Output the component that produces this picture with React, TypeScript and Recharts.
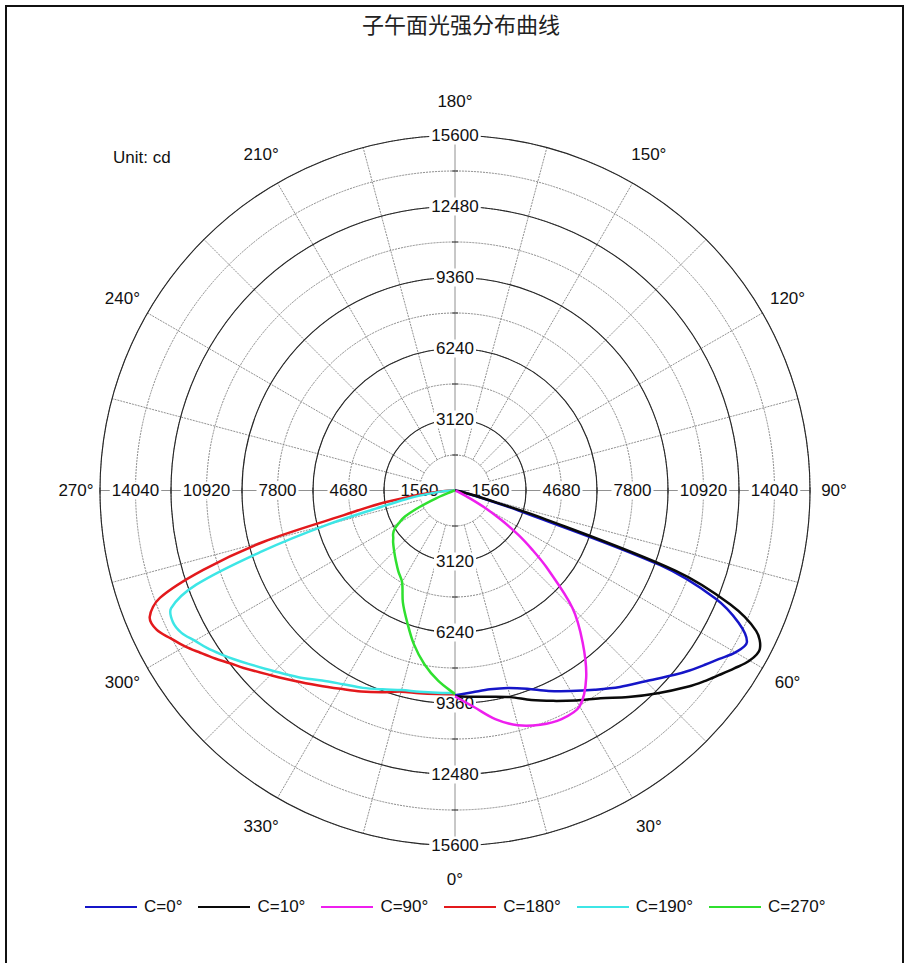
import {
  RadarChart, Radar, PolarGrid, PolarAngleAxis, PolarRadiusAxis, Legend,
} from "recharts";

// gamma angles (deg from nadir) shared by every C-plane series
const GAMMA = [0, 5, 10, 15, 20, 25, 30, 35, 40, 45, 50, 52.5, 55, 57.5, 60, 62.5, 65, 67.5, 70, 72.5, 75, 77.5, 80, 82.5, 85, 87.5, 90];

// intensities in cd, right half of the plot
const C0 = [9000, 8900, 8870, 8980, 9270, 9720, 10180, 10690, 11270, 11850, 12600, 12990, 13370, 13770, 14230, 14460, 13750, 12370, 9600, 2900, 900, 400, 200, 120, 60, 20, 0];
const C10 = [9050, 9100, 9200, 9400, 9800, 10200, 10650, 11150, 11850, 12600, 13400, 13780, 14150, 14550, 14950, 15100, 14600, 13100, 10300, 4000, 1100, 450, 250, 150, 80, 30, 0];
const C90 = [9050, 9550, 10200, 10680, 10950, 11080, 10950, 10050, 8730, 7300, 5250, 4300, 3400, 2400, 1500, 650, 250, 100, 50, 20, 0, 0, 0, 0, 0, 0, 0];
// left half
const C180 = [8950, 8980, 9050, 9150, 9440, 9750, 10065, 10460, 10930, 11470, 12130, 12466, 12870, 13270, 13700, 14080, 14470, 14520, 13800, 11600, 8700, 5000, 3400, 1800, 1000, 450, 0];
const C190 = [8900, 8920, 8980, 9080, 9300, 9570, 9830, 10190, 10710, 11230, 11850, 12200, 12550, 12900, 13200, 13550, 13680, 13500, 12100, 8900, 5800, 3300, 2200, 1300, 700, 250, 0];
const C270 = [8950, 8400, 7750, 6990, 6150, 5420, 4650, 4340, 4040, 3780, 3550, 3420, 3320, 3150, 2830, 2480, 1720, 900, 300, 120, 50, 0, 0, 0, 0, 0, 0];

const ANGLE_TICKS = [0, 15, 30, 45, 60, 75, 90, 105, 120, 135, 150, 165, 180, 195, 210, 225, 240, 255, 270, 285, 300, 315, 330, 345];
const RADIUS_TICKS = [1560, 3120, 4680, 6240, 7800, 9360, 10920, 12480, 14040, 15600];

const RIGHT = [
  { key: "c0", name: "C=0°", values: C0, color: "#1515c8" },
  { key: "c10", name: "C=10°", values: C10, color: "#0a0a0a" },
  { key: "c90", name: "C=90°", values: C90, color: "#ee1fee" },
];
const LEFT = [
  { key: "c180", name: "C=180°", values: C180, color: "#e3191c" },
  { key: "c190", name: "C=190°", values: C190, color: "#3de6e6" },
  { key: "c270", name: "C=270°", values: C270, color: "#2fe02f" },
];
const ORDER = [...RIGHT, ...LEFT].map((s) => s.name);

// right side plotted at angle = gamma, left side at 360 - gamma
const rows = [
  ...GAMMA.map((g, i) => {
    const row: Record<string, number> = { angle: g };
    RIGHT.forEach((s) => (row[s.key] = s.values[i]));
    return row;
  }),
  ...GAMMA.map((g, i) => {
    const row: Record<string, number> = { angle: 360 - g };
    LEFT.forEach((s) => (row[s.key] = s.values[i]));
    return row;
  }).reverse(),
];

const CX = 455;
const CY = 490.5;
const R = 355;
const MAX = 15600;
const RAD = Math.PI / 180;
const FONT = '"Liberation Sans", Arial, sans-serif';

function AngleTick(props: any) {
  const v = props.payload.value;
  if (v >= 360) return <g />;
  const a = props.payload.coordinate * RAD;
  const cos = Math.cos(a);
  const sin = -Math.sin(a);
  const r0 = v % 90 === 0 ? 0 : (R * RADIUS_TICKS[0]) / MAX;
  const lr = R + 24 + 10 * Math.abs(Math.cos(v * RAD));
  return (
    <g>
      <line x1={CX + r0 * cos} y1={CY + r0 * sin} x2={CX + R * cos} y2={CY + R * sin}
        stroke="#858585" strokeWidth={0.9} strokeDasharray={v % 90 === 0 ? undefined : "2 1"} />
      {v % 30 === 0 && (
        <text x={CX + lr * cos} y={CY + lr * sin} textAnchor="middle" dominantBaseline="central"
          fontSize={17} fontFamily={FONT} fill="#111">{`${v}°`}</text>
      )}
    </g>
  );
}

function RadiusTick(props: any) {
  const r = props.payload.coordinate;
  const label = String(props.payload.value);
  const even = Math.round(props.payload.value / RADIUS_TICKS[0]) % 2 === 0;
  const w = label.length * 9.5 + 4;
  const spots = even ? [[CX, CY - r], [CX, CY + r]] : [[CX - r, CY], [CX + r, CY]];
  return (
    <g>
      {even && <circle cx={CX} cy={CY} r={r} fill="none" stroke="#262626" strokeWidth={1.1} />}
      {even ? (
        <>
          <line x1={CX - r} y1={CY - 3} x2={CX - r} y2={CY + 3} stroke="#333" />
          <line x1={CX + r} y1={CY - 3} x2={CX + r} y2={CY + 3} stroke="#333" />
        </>
      ) : (
        <>
          <line x1={CX - 3} y1={CY - r} x2={CX + 3} y2={CY - r} stroke="#333" />
          <line x1={CX - 3} y1={CY + r} x2={CX + 3} y2={CY + r} stroke="#333" />
        </>
      )}
      {spots.map(([x, y], i) => (
        <g key={i}>
          <rect x={x - w / 2} y={y - 9} width={w} height={18} fill="#fff" />
          <text x={x} y={y} textAnchor="middle" dominantBaseline="central"
            fontSize={17} fontFamily={FONT} fill="#111">{label}</text>
        </g>
      ))}
    </g>
  );
}

// smooth open path through the library-computed points (no closing segment)
function smoothPath(points: any[]) {
  const pts: { x: number; y: number }[] = [];
  points.forEach((p) => {
    if (!Number.isFinite(p.x) || !Number.isFinite(p.y)) return;
    const last = pts[pts.length - 1];
    if (last && Math.hypot(p.x - last.x, p.y - last.y) < 0.5) return;
    pts.push({ x: p.x, y: p.y });
  });
  if (pts.length < 2) return "";
  const dist = (a: any, b: any) => Math.hypot(a.x - b.x, a.y - b.y);
  let d = `M${pts[0].x},${pts[0].y}`;
  for (let i = 0; i < pts.length - 1; i++) {
    const p0 = pts[Math.max(0, i - 1)];
    const p1 = pts[i];
    const p2 = pts[i + 1];
    const p3 = pts[Math.min(pts.length - 1, i + 2)];
    const seg = dist(p1, p2);
    const n1 = dist(p0, p1) + seg || 1;
    const n2 = seg + dist(p2, p3) || 1;
    const c1x = p1.x + ((p2.x - p0.x) / n1) * (seg / 3);
    const c1y = p1.y + ((p2.y - p0.y) / n1) * (seg / 3);
    const c2x = p2.x - ((p3.x - p1.x) / n2) * (seg / 3);
    const c2y = p2.y - ((p3.y - p1.y) / n2) * (seg / 3);
    d += `C${c1x},${c1y},${c2x},${c2y},${p2.x},${p2.y}`;
  }
  return d;
}

const openCurve = (color: string) => (props: any) => (
  <path d={smoothPath(props.points || [])} stroke={color} strokeWidth={2.5} fill="none" strokeLinejoin="round" />
);

function renderLegend(props: any) {
  const items = [...(props.payload || [])].sort((a: any, b: any) => ORDER.indexOf(a.value) - ORDER.indexOf(b.value));
  return (
    <div style={{ display: "flex", alignItems: "center", fontFamily: FONT, fontSize: 17, color: "#111" }}>
      {items.map((item: any) => (
        <div key={item.value} style={{ display: "flex", alignItems: "center", marginRight: 16 }}>
          <span style={{ display: "inline-block", width: 52, borderTop: `2.5px solid ${item.color}`, marginRight: 7 }} />
          <span>{item.value}</span>
        </div>
      ))}
    </div>
  );
}

export default function App() {
  return (
    <div style={{ position: "fixed", left: 0, top: 0, width: 905, height: 963, overflow: "hidden", background: "#fff" }}>
      <div style={{ position: "absolute", left: 5, top: 5, width: 899, height: 1000, border: "2px solid #111", boxSizing: "border-box" }} />
      <div style={{ position: "absolute", left: 362, top: 12, fontSize: 22, lineHeight: "22px", fontFamily: '"Noto Sans CJK SC", sans-serif', color: "#222", whiteSpace: "nowrap" }}>
        子午面光强分布曲线
      </div>
      <div style={{ position: "absolute", left: 113, top: 149, fontSize: 17, lineHeight: "17px", fontFamily: FONT, color: "#111" }}>
        Unit: cd
      </div>
      <div style={{ position: "absolute", left: 0, top: 0 }}>
        <RadarChart width={905} height={963} data={rows} cx={CX} cy={CY} outerRadius={R}
          startAngle={-90} endAngle={270} margin={{ top: 0, right: 0, bottom: 0, left: 0 }}>
          <PolarGrid gridType="circle" radialLines={false} stroke="#8a8a8a" strokeDasharray="2 1" />
          <PolarAngleAxis type="number" dataKey="angle" domain={[0, 360]} ticks={ANGLE_TICKS} tickCount={25}
            axisLine={false} tickLine={false} tick={AngleTick} zIndex={-60} />
          <PolarRadiusAxis angle={90} type="number" domain={[0, MAX]} ticks={RADIUS_TICKS} tickCount={11}
            allowDataOverflow axisLine={false} tickLine={false} tick={RadiusTick} zIndex={-50} />
          {[...RIGHT, ...LEFT].map((s) => (
            <Radar key={s.key} name={s.name} dataKey={s.key} stroke={s.color} fill="none"
              dot={false} legendType="line" isAnimationActive={false} shape={openCurve(s.color)} />
          ))}
          <Legend verticalAlign="bottom" content={renderLegend} itemSorter={null as any}
            wrapperStyle={{ position: "absolute", left: 85, top: 897, bottom: "auto", width: 780 }} />
        </RadarChart>
      </div>
    </div>
  );
}
